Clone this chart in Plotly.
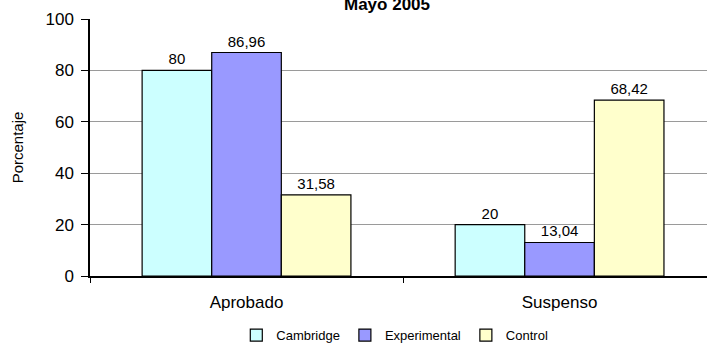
import plotly.graph_objects as go

categories = ["Aprobado", "Suspenso"]
cambridge = [80, 20]
experimental = [86.96, 13.04]
control = [31.58, 68.42]

series = [
    ("Cambridge", cambridge, "#CCFFFF"),
    ("Experimental", experimental, "#9999FF"),
    ("Control", control, "#FFFFCC"),
]

fig = go.Figure()
for name, vals, color in series:
    fig.add_trace(go.Bar(
        name=name, x=categories, y=vals,
        marker=dict(color=color, line=dict(color="#000000", width=1.2)),
        texttemplate="%{y}", textposition="outside", cliponaxis=False,
        textfont=dict(family="Liberation Sans, Arial", size=15, color="#000"),
    ))

fig.update_layout(
    width=707, height=343,
    margin=dict(l=90, r=0, t=19, b=67, autoexpand=False),
    plot_bgcolor="white", paper_bgcolor="white",
    barmode="group", bargap=0.333, bargroupgap=0,
    separators=",.",
    font=dict(family="Liberation Sans, Arial", color="#000"),
    showlegend=True,
    legend=dict(orientation="h", x=0.494, xanchor="center", y=-0.23, yanchor="middle",
                font=dict(size=13), itemwidth=30, tracegroupgap=0),
    xaxis=dict(
        type="category", range=[-0.5, 1.471], automargin=False,
        showline=True, linecolor="#000", linewidth=1.5,
        ticks="outside", tickson="boundaries", ticklen=5, tickcolor="#000",
        tickfont=dict(size=17), ticklabelstandoff=10, showgrid=False,
    ),
    yaxis=dict(
        range=[0, 100], dtick=20, automargin=False,
        showline=True, linecolor="#000", linewidth=1.5,
        ticks="outside", ticklen=7, tickcolor="#000",
        tickfont=dict(size=17), ticklabelstandoff=4,
        showgrid=True, gridcolor="#9a9a9a", gridwidth=1,
        zeroline=False,
        title=dict(text="Porcentaje", font=dict(size=15), standoff=18),
    ),
    annotations=[dict(
        text="<b>Mayo 2005</b>", xref="paper", yref="paper",
        x=0.481, y=1.0, yshift=3, xanchor="center", yanchor="bottom",
        showarrow=False, font=dict(size=17),
    )],
)

fig.write_html("out.html")
